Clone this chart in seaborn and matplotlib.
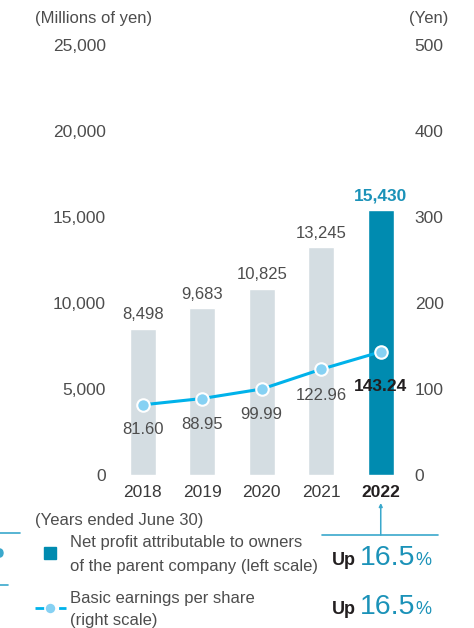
import matplotlib
matplotlib.use("Agg")
import matplotlib.pyplot as plt
from matplotlib.lines import Line2D
from matplotlib.patches import Rectangle, Circle
import seaborn as sns
import pandas as pd
import numpy as np

# ---- data ----
years = ["2018", "2019", "2020", "2021", "2022"]
net_profit = [8498, 9683, 10825, 13245, 15430]          # millions of yen (left scale)
eps = [81.60, 88.95, 99.99, 122.96, 143.24]             # yen (right scale)
left_ticks = [0, 5000, 10000, 15000, 20000, 25000]
right_ticks = [0, 100, 200, 300, 400, 500]
profit_growth = 16.5
eps_growth = 16.5

# ---- style ----
sns.set_theme(style="white")
plt.rcParams["font.family"] = ["Liberation Sans", "DejaVu Sans"]

GREY_TXT = "#4d4d4d"
DARK_TXT = "#231f20"
BAR_GREY = "#d4dde2"
BAR_TEAL = "#008bb0"
TEAL_TXT = "#1b92b8"
LINE_BLUE = "#00b2ea"
MARK_BLUE = "#86d1f3"
RULE_BLUE = "#3aa8cc"

W, H = 474, 628
fig = plt.figure(figsize=(W / 100, H / 100), dpi=100)
fig.patch.set_facecolor("white")
ax = fig.add_axes([113 / W, 153 / H, 297.5 / W, 430 / H])

df = pd.DataFrame({"year": years, "profit": net_profit, "eps": eps})
palette = {y: (BAR_TEAL if y == years[-1] else BAR_GREY) for y in years}

sns.barplot(data=df, x="year", y="profit", hue="year", palette=palette,
            legend=False, width=0.44, saturation=1, ax=ax)
ax.set_xlim(-0.5, len(years) - 0.5)
ax.set_ylim(left_ticks[0], left_ticks[-1])
ax.set_yticks(left_ticks)
ax.set_yticklabels([f"{t:,}" for t in left_ticks])
ax.set_xlabel("")
ax.set_ylabel("")
for s in ax.spines.values():
    s.set_visible(False)
ax.tick_params(axis="y", length=0, pad=5, labelsize=12.5, labelcolor=GREY_TXT)
ax.tick_params(axis="x", length=0, pad=7, labelsize=12.5, labelcolor=DARK_TXT)
for lbl in ax.get_xticklabels():
    if lbl.get_text() == years[-1]:
        lbl.set_fontweight("bold")
        lbl.set_color(DARK_TXT)
    else:
        lbl.set_color("#3a3a3a")

# bar value labels
for i, v in enumerate(net_profit):
    last = i == len(net_profit) - 1
    ax.annotate(f"{v:,}", (i, v), xytext=(0, 10), textcoords="offset points",
                ha="center", va="center", fontsize=12.5 if last else 12,
                fontweight="bold" if last else "normal",
                color=TEAL_TXT if last else GREY_TXT)

# EPS line on the right scale
ax2 = ax.twinx()
sns.lineplot(x=np.arange(len(years)), y=eps, ax=ax2, color=LINE_BLUE, lw=2.2,
             marker="o", markersize=9, markerfacecolor=MARK_BLUE,
             markeredgecolor="white", markeredgewidth=1.5)
ax2.set_ylim(right_ticks[0], right_ticks[-1])
ax2.set_yticks(right_ticks)
ax2.set_yticklabels([str(t) for t in right_ticks])
ax2.set_ylabel("")
for s in ax2.spines.values():
    s.set_visible(False)
ax2.tick_params(axis="y", length=0, pad=3, labelsize=12.5, labelcolor=GREY_TXT)

eps_offsets = [-18, -19, -18, -19, -25]
for i, v in enumerate(eps):
    last = i == len(eps) - 1
    ax2.annotate(f"{v:.2f}", (i, v), xytext=(0, eps_offsets[i]),
                 textcoords="offset points", ha="center", va="center",
                 fontsize=12.5 if last else 12,
                 fontweight="bold" if last else "normal",
                 color=DARK_TXT if last else GREY_TXT, zorder=5)

# axis unit captions
fig.text(35 / W, 1 - 18 / H, "(Millions of yen)", fontsize=12, color=GREY_TXT,
         ha="left", va="center")
fig.text(448 / W, 1 - 18 / H, "(Yen)", fontsize=12, color=GREY_TXT,
         ha="right", va="center")
fig.text(35 / W, 1 - 520 / H, "(Years ended June 30)", fontsize=12,
         color=GREY_TXT, ha="left", va="center")

# pointer from the latest year to the growth figures
fig.canvas.draw()
renderer = fig.canvas.get_renderer()
bx = ax.transData.transform((len(years) - 1, 0))[0]
fig.add_artist(Line2D([322 / W, 438 / W], [1 - 535 / H] * 2,
                      transform=fig.transFigure, color=RULE_BLUE, lw=1.2))
ax.annotate("", xy=(bx, H - 503), xytext=(bx, H - 535),
            xycoords="figure pixels", textcoords="figure pixels",
            arrowprops=dict(arrowstyle="-|>", color=RULE_BLUE, lw=1.1,
                            mutation_scale=5, shrinkA=0, shrinkB=0),
            annotation_clip=False)

# legend: net profit
fig.add_artist(Rectangle(((50 - 6) / W, 1 - (553 + 6) / H), 12 / W, 12 / H,
                         transform=fig.transFigure, color=BAR_TEAL))
fig.text(70 / W, 1 - 543 / H, "Net profit attributable to owners",
         fontsize=12, color=GREY_TXT, ha="left", va="center")
fig.text(70 / W, 1 - 566 / H, "of the parent company (left scale)",
         fontsize=12, color=GREY_TXT, ha="left", va="center")

# legend: EPS
fig.add_artist(Line2D([35 / W, 66 / W], [1 - 608 / H] * 2,
                      transform=fig.transFigure, color=LINE_BLUE, lw=2,
                      dashes=(5, 3.5)))
fig.add_artist(Line2D([50 / W], [1 - 608 / H], transform=fig.transFigure,
                      marker="o", markersize=8, markerfacecolor=MARK_BLUE,
                      markeredgecolor="white", markeredgewidth=1.2,
                      linestyle="none"))
fig.text(70 / W, 1 - 598 / H, "Basic earnings per share", fontsize=12,
         color=GREY_TXT, ha="left", va="center")
fig.text(70 / W, 1 - 620 / H, "(right scale)", fontsize=12,
         color=GREY_TXT, ha="left", va="center")


def growth_label(y_base, value):
    fig.text(332 / W, 1 - y_base / H, "Up", fontsize=13, fontweight="bold",
             color=DARK_TXT, ha="left", va="baseline")
    num = fig.text(360 / W, 1 - y_base / H, f"{value:.1f}", fontsize=20.5,
                   color=TEAL_TXT, ha="left", va="baseline")
    x_end = num.get_window_extent(renderer).x1
    fig.text((x_end + 0.3) / W, 1 - y_base / H, "%", fontsize=13,
             color=TEAL_TXT, ha="left", va="baseline")


growth_label(565, profit_growth)
growth_label(614, eps_growth)

# edge of the neighbouring panel
fig.add_artist(Line2D([0, 20 / W], [1 - 533 / H] * 2, transform=fig.transFigure,
                      color=RULE_BLUE, lw=1.2))
fig.add_artist(Line2D([0, 8 / W], [1 - 585 / H] * 2, transform=fig.transFigure,
                      color=RULE_BLUE, lw=1.2))
fig.add_artist(Circle((0, 1 - 553 / H), 3 / W, transform=fig.transFigure,
                      color=RULE_BLUE))

fig.savefig("out.png", dpi=100, facecolor="white")
